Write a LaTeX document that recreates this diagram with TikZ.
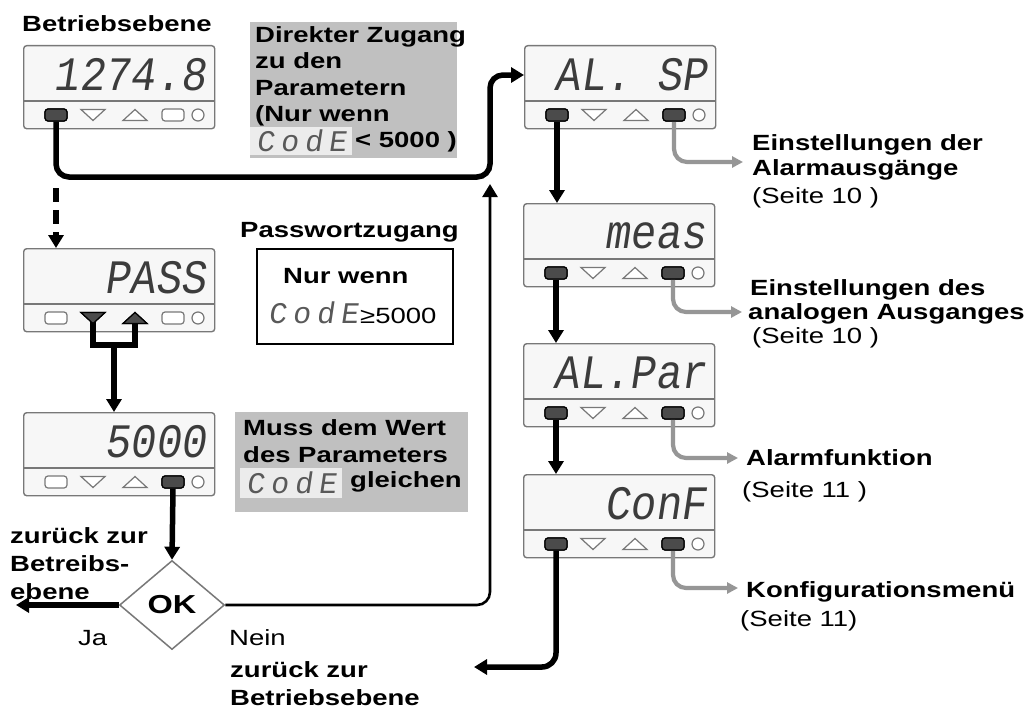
\documentclass[tikz,border=0pt]{standalone}
\usepackage{fontspec}
\setmainfont{Liberation Sans}[FakeStretch=1.25]
\newfontfamily\segfont{Liberation Mono}[FakeSlant=0.15,FakeStretch=0.88]
\newfontfamily\segwide{Liberation Mono}[FakeSlant=0.15,LetterSpace=20]
\usetikzlibrary{arrows.meta,calc,shapes.geometric}
\definecolor{boxgray}{RGB}{192,192,192}
\definecolor{lightbg}{RGB}{236,236,236}
\definecolor{linegray}{RGB}{150,150,150}
\definecolor{framegray}{RGB}{120,120,120}
\definecolor{btndark}{RGB}{75,75,75}
\definecolor{segcol}{RGB}{60,60,60}
\newcommand\disp[8]{%
  \node[dispbox] (#1) at (#2,#3) {};
  \draw[framegray, line width=1.4pt] ($(#1.north west)+(0,56)$) -- ($(#1.north east)+(0,56)$);
  \node[segtext] (#1-t) at ($(#1.north west)+(183,45)$) {#4};
  \node[btn,#5] (#1-b1) at ($(#1.north west)+(33,70)$) {};
  \coordinate (#1-b2) at ($(#1.north west)+(70,70)$);
  \draw[#6] ($(#1-b2)+(-12,-5.5)$) -- ($(#1-b2)+(12,-5.5)$) -- ($(#1-b2)+(0,5.5)$) -- cycle;
  \coordinate (#1-b3) at ($(#1.north west)+(112,70)$);
  \draw[#7] ($(#1-b3)+(-12,5.5)$) -- ($(#1-b3)+(12,5.5)$) -- ($(#1-b3)+(0,-5.5)$) -- cycle;
  \node[btn,#8] (#1-b4) at ($(#1.north west)+(150,70)$) {};
  \node[led] (#1-led) at ($(#1.north west)+(175,70)$) {};
}
\begin{document}
\begin{tikzpicture}[x=1pt,y=-1pt,
  dispbox/.style={rectangle, draw=framegray, line width=1.4pt, fill=white!97!black,
    rounded corners=3pt, minimum width=191pt, minimum height=83pt, anchor=north west, inner sep=0pt},
  segtext/.style={anchor=base east, inner sep=0pt, font=\segfont\fontsize{48}{48}\selectfont, text=segcol},
  btn/.style={rectangle, rounded corners=3pt, minimum width=22pt, minimum height=12pt, inner sep=0pt},
  led/.style={circle, draw=framegray, line width=1.2pt, fill=white, minimum size=12pt, inner sep=0pt},
  pressed/.style={fill=btndark, draw=black, line width=1.2pt},
  released/.style={fill=white, draw=framegray, line width=1.2pt},
  graybox/.style={rectangle, fill=boxgray, anchor=north west, inner sep=0pt},
  lightbox/.style={rectangle, fill=lightbg, anchor=north west, inner sep=0pt,
    font=\segwide\fontsize{30}{30}\selectfont, text=segcol!85},
  lbl/.style={anchor=base west, inner sep=0pt, font=\bfseries\fontsize{22}{26}\selectfont},
  reg/.style={anchor=base west, inner sep=0pt, font=\fontsize{22}{26}\selectfont},
  blk/.style={line width=5.5pt, draw=black},
  thinblk/.style={line width=2.6pt, draw=black},
  gry/.style={line width=4.2pt, draw=linegray},
  tip/.style={-{Triangle[length=13pt,width=15pt]}},
  gtip/.style={-{Triangle[length=11pt,width=11pt]}}
]
\useasboundingbox (0,0) rectangle (1032,709);
\fill[white] (0,0) rectangle (1032,709);

% ---------- text boxes ----------
\node[lbl] (tBetrieb) at (22,32) {Betriebsebene};

\node[graybox, minimum width=207pt, minimum height=136pt] (dz) at (250,22) {};
\node[lbl] (dz1) at (255,42) {Direkter Zugang};
\node[lbl] (dz2) at (255,68) {zu den};
\node[lbl] (dz3) at (255,95) {Parametern};
\node[lbl] (dz4) at (255,121) {(Nur wenn};
\node[lightbox, minimum width=102pt, minimum height=28pt] (dzc) at (250,127) {CodE};
\node[lbl] (dz5) at (355,147) {< 5000 )};

\node[lbl] (tPass) at (240,237) {Passwortzugang};
\node[draw, line width=2.2pt, anchor=north west, minimum width=196pt, minimum height=95pt, inner sep=0pt] (pw) at (256,248) {};
\node[lbl] (pw1) at (283,283) {Nur wenn};
\node[anchor=base west, inner sep=0pt, font=\segwide\fontsize{30}{30}\selectfont, text=segcol!85] (pw2) at (268,323) {CodE};
\node[reg] (pw3) at (360,323) {≥5000};

\node[graybox, minimum width=233pt, minimum height=100pt] (mu) at (235,412) {};
\node[lbl] (mu1) at (243,435) {Muss dem Wert};
\node[lbl] (mu2) at (243,462) {des Parameters};
\node[lightbox, minimum width=102pt, minimum height=30pt] (muc) at (240,468) {CodE};
\node[lbl] (mu3) at (350,487) {gleichen};

% ---------- displays ----------
\disp{d1}{23}{45}{1274.8}{pressed}{released}{released}{released}
\disp{pass}{23}{248}{PASS}{released}{pressed}{pressed}{released}
\disp{code}{23}{412}{5000}{released}{released}{released}{pressed}
\disp{alsp}{524}{45}{AL. SP}{pressed}{released}{released}{pressed}
\disp{meas}{523}{203}{meas}{pressed}{released}{released}{pressed}
\disp{alpar}{523}{343}{AL.Par}{pressed}{released}{released}{pressed}
\disp{conf}{523}{474}{ConF}{pressed}{released}{released}{pressed}

% ---------- decision ----------
\node[diamond, draw=framegray, line width=1.5pt, fill=white, minimum width=105pt,
  minimum height=89pt, inner sep=0pt, font=\bfseries\fontsize{26}{26}\selectfont] (ok) at (172,605) {OK};

% ---------- coordinates ----------
\coordinate (c1) at (490,177);
\coordinate (dashstart) at (56,188);
\coordinate (jn) at (114,345);
\coordinate (jaend) at (16,605);
\coordinate (neinend) at (490,184);
\coordinate (backend) at (474,667);
\coordinate (g1) at (743,162);
\coordinate (g2) at (742,312);
\coordinate (g3) at (738,458);
\coordinate (g4) at (738,588);

% ---------- black connectors ----------
\draw[blk, tip, rounded corners=13pt] (d1-b1.south) |- (c1) |- ($(alsp.north west)+(0,30)$);
\draw[blk, tip, dash pattern=on 14pt off 8pt] (dashstart) -- (dashstart |- pass.north);
\draw[blk] (pass-b2) |- (jn) -| (pass-b3);
\draw[blk, tip] (jn) -- (jn |- code.north);
\draw[blk, tip] (code-b4.south) -- (ok.north);
\draw[blk, tip] (ok.west) -- (jaend);
\draw[thinblk, tip, rounded corners=13pt] (ok.east) -| (neinend);
\draw[blk, tip] (alsp-b1.south) -- (alsp-b1 |- meas.north);
\draw[blk, tip] (meas-b1.south) -- (meas-b1 |- alpar.north);
\draw[blk, tip] (alpar-b1.south) -- (alpar-b1 |- conf.north);
\draw[blk, tip, rounded corners=14pt] (conf-b1.south) |- (backend);

% ---------- gray connectors ----------
\draw[gry, gtip, rounded corners=13pt] (alsp-b4.south) |- (g1);
\draw[gry, gtip, rounded corners=13pt] (meas-b4.south) |- (g2);
\draw[gry, gtip, rounded corners=13pt] (alpar-b4.south) |- (g3);
\draw[gry, gtip, rounded corners=13pt] (conf-b4.south) |- (g4);

% redraw pressed buttons on top of lines
\node[btn,pressed] at (d1-b1) {};
\node[btn,pressed] at (code-b4) {};
\foreach \n in {alsp,meas,alpar,conf} {
  \node[btn,pressed] at (\n-b1) {};
  \node[btn,pressed] at (\n-b4) {};
}
\draw[pressed] ($(pass-b2)+(-12,-5.5)$) -- ($(pass-b2)+(12,-5.5)$) -- ($(pass-b2)+(0,5.5)$) -- cycle;
\draw[pressed] ($(pass-b3)+(-12,5.5)$) -- ($(pass-b3)+(12,5.5)$) -- ($(pass-b3)+(0,-5.5)$) -- cycle;

% ---------- labels ----------
\node[lbl] (zl1) at (10,543) {zurück zur};
\node[lbl] (zl2) at (10,571) {Betreibs-};
\node[lbl] (zl3) at (10,599) {ebene};
\node[reg] (ja) at (78,645) {Ja};
\node[reg] (nein) at (229,645) {Nein};
\node[lbl] (zb1) at (230,677) {zurück zur};
\node[lbl] (zb2) at (230,705) {Betriebsebene};

\node[lbl] (r1a) at (752,150) {Einstellungen der};
\node[lbl] (r1b) at (752,175) {Alarmausgänge};
\node[reg] (r1c) at (752,203) {(Seite 10 )};
\node[lbl] (r2a) at (750,295) {Einstellungen des};
\node[lbl] (r2b) at (748,319) {analogen Ausganges};
\node[reg] (r2c) at (752,343) {(Seite 10 )};
\node[lbl] (r3a) at (746,465) {Alarmfunktion};
\node[reg] (r3b) at (742,497) {(Seite 11 )};
\node[lbl] (r4a) at (746,597) {Konfigurationsmenü};
\node[reg] (r4b) at (740,626) {(Seite 11)};
\end{tikzpicture}
\end{document}
